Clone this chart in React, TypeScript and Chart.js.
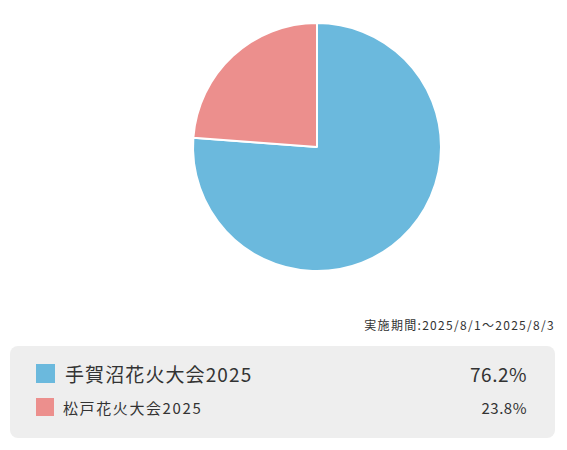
import { useEffect, useRef } from "react";
import { Chart, registerables } from "chart.js";

Chart.register(...registerables);

const labels = ["手賀沼花火大会2025", "松戸花火大会2025"];
const shares = [76.2, 23.8];
const colors = ["#6bb9dd", "#ec8f8d"];
const period = "実施期間:2025/8/1～2025/8/3";

const font = '"Noto Sans CJK JP", "Noto Sans", sans-serif';

export default function App() {
  const canvasRef = useRef<HTMLCanvasElement>(null);

  useEffect(() => {
    if (!canvasRef.current) return;
    const chart = new Chart(canvasRef.current, {
      type: "pie",
      data: {
        labels,
        datasets: [
          {
            data: shares,
            backgroundColor: colors,
            borderColor: "#ffffff",
            borderWidth: 2,
            hoverOffset: 0,
          },
        ],
      },
      options: {
        responsive: false,
        animation: false,
        radius: 124,
        plugins: {
          legend: { display: false },
          tooltip: { enabled: false },
        },
      },
    });
    return () => chart.destroy();
  }, []);

  return (
    <div
      style={{
        position: "fixed",
        left: 0,
        top: 0,
        width: 567,
        height: 450,
        background: "#ffffff",
        fontFamily: font,
        color: "#333333",
      }}
    >
      <canvas
        ref={canvasRef}
        width={260}
        height={260}
        style={{ position: "absolute", left: 187, top: 17, width: 260, height: 260 }}
      />
      <div
        style={{
          position: "absolute",
          right: 12,
          top: 316,
          fontSize: 12,
          lineHeight: "18px",
          letterSpacing: 1.3,
          whiteSpace: "nowrap",
        }}
      >
        {period}
      </div>
      <div
        style={{
          position: "absolute",
          left: 10,
          top: 346,
          width: 545,
          height: 92,
          borderRadius: 8,
          background: "#eeeeee",
        }}
      >
        {labels.map((label, i) => {
          const big = i === 0;
          const size = big ? 19 : 18;
          const top = big ? 18 : 52;
          return (
            <div
              key={label}
              style={{
                position: "absolute",
                left: 26,
                right: 28,
                top,
                height: size,
                display: "flex",
                alignItems: "center",
              }}
            >
              <span
                style={{
                  width: size,
                  height: size,
                  background: colors[i],
                  flex: "none",
                }}
              />
              <span
                style={{
                  marginLeft: big ? 10 : 9,
                  fontSize: big ? 19 : 15,
                  letterSpacing: big ? 1.1 : 1.6,
                  whiteSpace: "nowrap",
                  flex: 1,
                }}
              >
                {label}
              </span>
              <span style={{ fontSize: big ? 19 : 15, letterSpacing: 0.5 }}>
                {shares[i].toFixed(1)}%
              </span>
            </div>
          );
        })}
      </div>
    </div>
  );
}
